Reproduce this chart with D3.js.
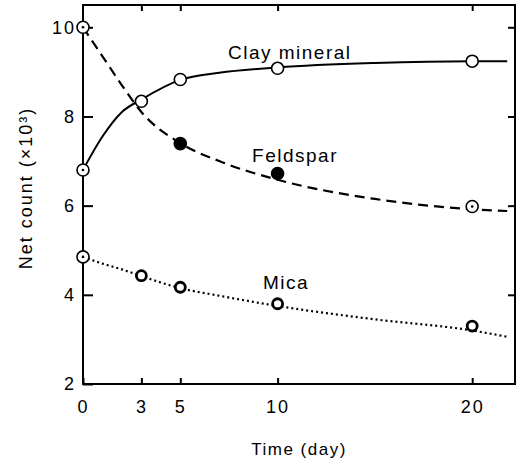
<!DOCTYPE html>
<html>
<head>
<meta charset="utf-8">
<script src="https://cdn.jsdelivr.net/npm/d3@7"></script>
<style>
  body { margin: 0; background: #fff; }
  text { font-family: "Liberation Sans", Arial, sans-serif; fill: #000; }
</style>
</head>
<body>
<div id="chart"></div>
<script>
// measured points
const days = [0, 3, 5, 10, 20];
const clay = [6.8, 8.34, 8.83, 9.08, 9.24];
const feldspar = [10.0, null, 7.39, 6.72, 5.98];
const mica = [4.85, 4.43, 4.17, 3.8, 3.3];

// fitted curves
const fitDays = [0, 1, 2, 3, 5, 7, 10, 15, 20, 21.8];
const clayFit = [6.8, 7.55, 8.1, 8.38, 8.82, 8.98, 9.1, 9.2, 9.24, 9.24];
const feldsparFit = [10.0, 9.35, 8.7, 8.1, 7.4, 7.0, 6.58, 6.15, 5.92, 5.88];
const micaFit = [4.85, 4.7, 4.57, 4.42, 4.15, 3.98, 3.75, 3.45, 3.2, 3.06];

const xTicks = [0, 3, 5, 10, 20];
const yTicks = [2, 4, 6, 8, 10];

const width = 523, height = 462;
const margin = { top: 5, right: 8, bottom: 78, left: 83 };

const svg = d3.select('#chart').append('svg')
    .attr('width', width)
    .attr('height', height);

const x = d3.scaleLinear().domain([0, 22.2]).range([margin.left, width - margin.right]);
const y = d3.scaleLinear().domain([2, 10.5]).range([height - margin.bottom, margin.top]);

// frame
svg.append('rect')
    .attr('x', x(0)).attr('y', y(10.5))
    .attr('width', x(22.2) - x(0)).attr('height', y(2) - y(10.5))
    .attr('fill', 'none').attr('stroke', '#000').attr('stroke-width', 2);

// axes with inward ticks
const styleAxis = g => {
    g.select('.domain').remove();
    g.selectAll('.tick line').attr('stroke', '#000').attr('stroke-width', 2);
    g.selectAll('.tick text').style('font-size', '18px').attr('letter-spacing', '2px');
};

svg.append('g')
    .attr('transform', `translate(0,${y(2)})`)
    .call(d3.axisBottom(x).tickValues(xTicks).tickSize(-6).tickPadding(16).tickFormat(d3.format('d')))
    .call(styleAxis);

svg.append('g')
    .attr('transform', `translate(0,${y(10.5)})`)
    .call(d3.axisTop(x).tickValues(xTicks.filter(d => d > 0)).tickSize(-6).tickFormat(''))
    .call(styleAxis);

svg.append('g')
    .attr('transform', `translate(${x(0)},0)`)
    .call(d3.axisLeft(y).tickValues(yTicks).tickSize(-10).tickPadding(7).tickFormat(d3.format('d')))
    .call(styleAxis);

svg.append('g')
    .attr('transform', `translate(${x(22.2)},0)`)
    .call(d3.axisRight(y).tickValues(yTicks.filter(d => d > 2)).tickSize(-7).tickFormat(''))
    .call(styleAxis);

// curves
const line = d3.line()
    .x((d, i) => x(fitDays[i]))
    .y(d => y(d))
    .curve(d3.curveMonotoneX);

svg.append('path').datum(clayFit)
    .attr('d', line).attr('fill', 'none')
    .attr('stroke', '#000').attr('stroke-width', 2);

svg.append('path').datum(feldsparFit)
    .attr('d', line).attr('fill', 'none')
    .attr('stroke', '#000').attr('stroke-width', 2.2)
    .attr('stroke-dasharray', '10,6');

svg.append('path').datum(micaFit)
    .attr('d', line).attr('fill', 'none')
    .attr('stroke', '#000').attr('stroke-width', 2.2)
    .attr('stroke-dasharray', '2,3');

// markers: 'dot' = open circle with a centre dot, 'open', 'filled', 'bold'
function drawPoints(values, kinds) {
    const pts = days.map((d, i) => ({ t: d, v: values[i], k: kinds[i] }))
        .filter(p => p.v !== null);
    const g = svg.append('g');
    g.selectAll('circle.m')
        .data(pts).enter()
        .append('circle')
        .attr('class', 'm')
        .attr('cx', p => x(p.t)).attr('cy', p => y(p.v))
        .attr('r', p => p.k === 'bold' ? 5 : 6)
        .attr('fill', p => p.k === 'filled' ? '#000' : '#fff')
        .attr('stroke', '#000')
        .attr('stroke-width', p => p.k === 'bold' ? 2.8 : 1.6);
    g.selectAll('circle.c')
        .data(pts.filter(p => p.k === 'dot')).enter()
        .append('circle')
        .attr('class', 'c')
        .attr('cx', p => x(p.t)).attr('cy', p => y(p.v))
        .attr('r', 1.3).attr('fill', '#000');
}

drawPoints(clay, ['dot', 'open', 'open', 'open', 'open']);
drawPoints(feldspar, ['dot', 'open', 'filled', 'filled', 'dot']);
drawPoints(mica, ['dot', 'bold', 'bold', 'bold', 'bold']);

// curve labels
const label = (txt, t, v) => svg.append('text')
    .attr('x', x(t)).attr('y', y(v))
    .attr('letter-spacing', '1.5px')
    .style('font-size', '19px')
    .text(txt);

label('Clay mineral', 7.45, 9.29);
label('Feldspar', 8.69, 6.98);
label('Mica', 9.25, 4.13);

// axis titles
svg.append('text')
    .attr('x', 299).attr('y', 455)
    .attr('text-anchor', 'middle')
    .attr('letter-spacing', '1.5px')
    .style('font-size', '17px')
    .text('Time  (day)');

svg.append('text')
    .attr('transform', `translate(32,188) rotate(-90)`)
    .attr('text-anchor', 'middle')
    .attr('letter-spacing', '2px')
    .style('font-size', '18px')
    .text('Net  count  (×10³)');
</script>
</body>
</html>
